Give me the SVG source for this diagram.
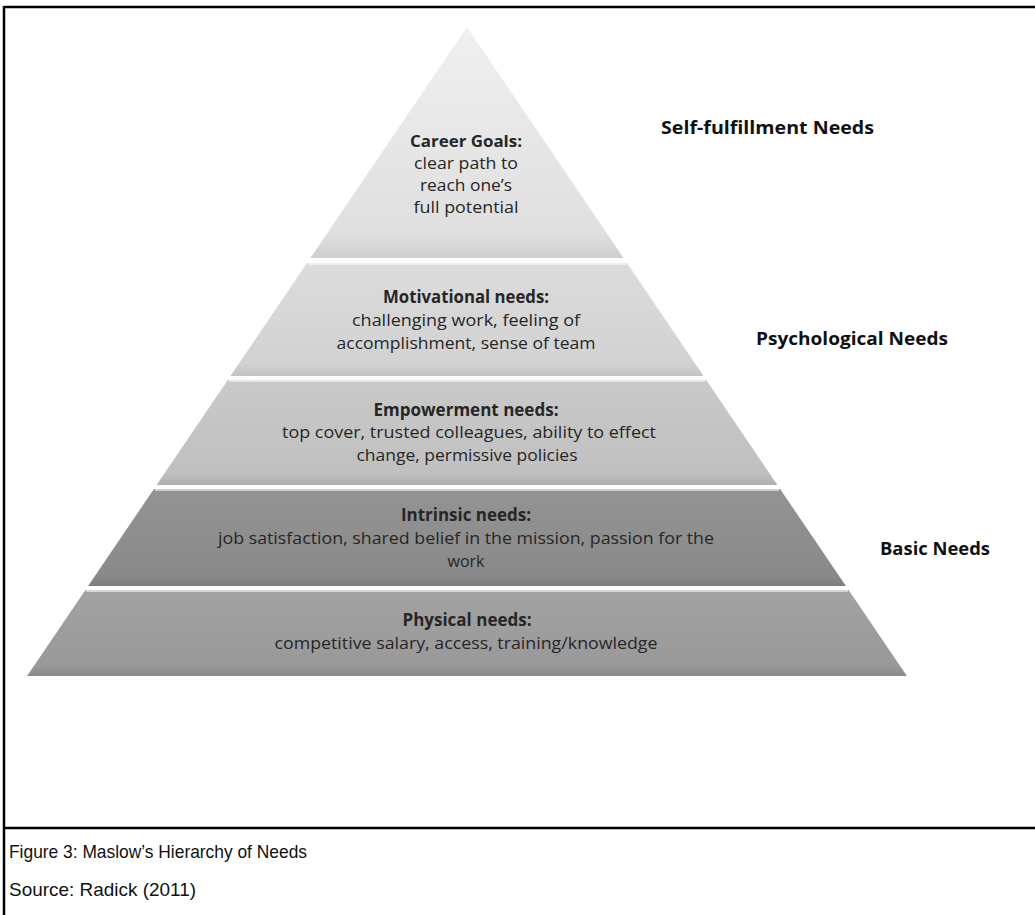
<svg xmlns="http://www.w3.org/2000/svg" width="1035" height="915" viewBox="0 0 1035 915">
  <style>
    .frame { stroke: #000; stroke-width: 2.5; fill: none; }
    .tier-text { font-family: "Open Sans", "Noto Sans", "Liberation Sans", sans-serif; font-size: 16px; fill: #262626; text-anchor: middle; }
    .narrow { font-size: 17px; }
    .tier-title { font-weight: bold; }
    .level { font-family: "Open Sans", "Noto Sans", "Liberation Sans", sans-serif; font-size: 17px; font-weight: bold; fill: #111; }
    .caption { font-family: "Liberation Sans", Arial, sans-serif; font-size: 19px; fill: #111; }
    .hl { stroke: #ffffff; stroke-opacity: 0.55; stroke-width: 2; fill: none; }
  </style>
  <defs>
    <linearGradient id="g1" x1="0" y1="0" x2="0" y2="1">
      <stop offset="0" stop-color="#f0f0f0"/>
      <stop offset="0.9" stop-color="#dfdfdf"/>
      <stop offset="1" stop-color="#cfcfcf"/>
    </linearGradient>
    <linearGradient id="g2" x1="0" y1="0" x2="0" y2="1">
      <stop offset="0" stop-color="#dcdcdc"/>
      <stop offset="0.88" stop-color="#d2d2d2"/>
      <stop offset="1" stop-color="#c2c2c2"/>
    </linearGradient>
    <linearGradient id="g3" x1="0" y1="0" x2="0" y2="1">
      <stop offset="0" stop-color="#c9c9c9"/>
      <stop offset="0.88" stop-color="#c0c0c0"/>
      <stop offset="1" stop-color="#b0b0b0"/>
    </linearGradient>
    <linearGradient id="g4" x1="0" y1="0" x2="0" y2="1">
      <stop offset="0" stop-color="#939393"/>
      <stop offset="0.88" stop-color="#8a8a8a"/>
      <stop offset="1" stop-color="#7d7d7d"/>
    </linearGradient>
    <linearGradient id="g5" x1="0" y1="0" x2="0" y2="1">
      <stop offset="0" stop-color="#a2a2a2"/>
      <stop offset="0.88" stop-color="#999999"/>
      <stop offset="1" stop-color="#8a8a8a"/>
    </linearGradient>
  </defs>

  <!-- page frame -->
  <g id="frame">
    <line class="frame" x1="4" y1="7" x2="1035" y2="7"/>
    <line class="frame" x1="4" y1="6" x2="4" y2="915"/>
    <line class="frame" x1="4" y1="828" x2="1035" y2="828"/>
  </g>

  <!-- pyramid tiers, top to bottom -->
  <g id="tier-career">
    <polygon points="467,27 623.6,258 310.4,258" fill="url(#g1)"/>
    <text class="tier-text tier-title" x="466" y="147" textLength="112" lengthAdjust="spacingAndGlyphs">Career Goals:</text>
    <text class="tier-text" x="466" y="169" textLength="104" lengthAdjust="spacingAndGlyphs">clear path to</text>
    <text class="tier-text" x="466" y="191" textLength="92" lengthAdjust="spacingAndGlyphs">reach one’s</text>
    <text class="tier-text" x="466" y="213" textLength="105" lengthAdjust="spacingAndGlyphs">full potential</text>
  </g>

  <g id="tier-motivational">
    <polygon points="307,263 627,263 703.5,376 230.5,376" fill="url(#g2)"/>
    <line class="hl" x1="308" y1="264" x2="626" y2="264"/>
    <text class="tier-text narrow tier-title" x="466" y="303" textLength="166" lengthAdjust="spacingAndGlyphs">Motivational needs:</text>
    <text class="tier-text narrow" x="466" y="326" textLength="228" lengthAdjust="spacingAndGlyphs">challenging work, feeling of</text>
    <text class="tier-text narrow" x="466" y="349" textLength="259" lengthAdjust="spacingAndGlyphs">accomplishment, sense of team</text>
  </g>

  <g id="tier-empowerment">
    <polygon points="227.8,380 706.2,380 777.4,485 156.6,485" fill="url(#g3)"/>
    <line class="hl" x1="229" y1="381" x2="705" y2="381"/>
    <text class="tier-text narrow tier-title" x="466" y="416" textLength="185" lengthAdjust="spacingAndGlyphs">Empowerment needs:</text>
    <text class="tier-text narrow" x="469" y="438" textLength="374" lengthAdjust="spacingAndGlyphs">top cover, trusted colleagues, ability to effect</text>
    <text class="tier-text narrow" x="467" y="461" textLength="221" lengthAdjust="spacingAndGlyphs">change, permissive policies</text>
  </g>

  <g id="tier-intrinsic">
    <polygon points="153.9,489 780.1,489 845.9,586 88.1,586" fill="url(#g4)"/>
    <line class="hl" x1="155" y1="490" x2="779" y2="490"/>
    <text class="tier-text narrow tier-title" x="466" y="521" textLength="130" lengthAdjust="spacingAndGlyphs">Intrinsic needs:</text>
    <text class="tier-text narrow" x="466" y="544" textLength="496" lengthAdjust="spacingAndGlyphs">job satisfaction, shared belief in the mission, passion for the</text>
    <text class="tier-text narrow" x="466" y="567" textLength="37" lengthAdjust="spacingAndGlyphs">work</text>
  </g>

  <g id="tier-physical">
    <polygon points="85.4,590 848.6,590 906.9,676 27.1,676" fill="url(#g5)"/>
    <line class="hl" x1="86" y1="591" x2="848" y2="591"/>
    <text class="tier-text narrow tier-title" x="467" y="626" textLength="129" lengthAdjust="spacingAndGlyphs">Physical needs:</text>
    <text class="tier-text narrow" x="466" y="649" textLength="383" lengthAdjust="spacingAndGlyphs">competitive salary, access, training/knowledge</text>
  </g>

  <!-- level labels to the right of the pyramid -->
  <g id="levels">
    <text class="level" x="661" y="134" textLength="213" lengthAdjust="spacingAndGlyphs">Self-fulfillment Needs</text>
    <text class="level" x="756" y="345" textLength="192" lengthAdjust="spacingAndGlyphs">Psychological Needs</text>
    <text class="level" x="880" y="555" textLength="110" lengthAdjust="spacingAndGlyphs">Basic Needs</text>
  </g>

  <!-- caption -->
  <g id="caption">
    <text class="caption" x="9" y="858" textLength="298" lengthAdjust="spacingAndGlyphs">Figure 3: Maslow’s Hierarchy of Needs</text>
    <text class="caption" x="9" y="896" textLength="187" lengthAdjust="spacingAndGlyphs">Source: Radick (2011)</text>
  </g>
</svg>
